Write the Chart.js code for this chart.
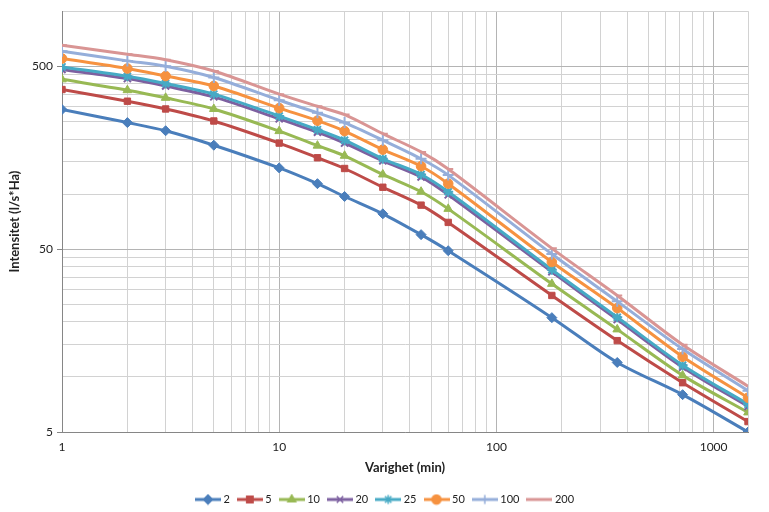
<!DOCTYPE html>
<html><head><meta charset="utf-8">
<script src="https://cdn.jsdelivr.net/npm/chart.js@4/dist/chart.umd.min.js"></script>
<style>html,body{margin:0;padding:0;background:#fff}#wrap{width:769px;height:512px;position:relative}</style>
</head><body><div id="wrap"><canvas id="c"></canvas></div>
<script>
const durations = [1,2,3,5,10,15,20,30,45,60,180,360,720,1440];
const returnPeriods = ['2','5','10','20','25','50','100','200'];
const s2   = [290,246,222,185,139,114,97,78,60,49,21.1,12.0,8.0,5.0];
const s5   = [373,322,292,251,190,158,138,109,87,70,27.9,15.8,9.3,5.7];
const s10  = [424,370,336,292,221,184,162,128,103,83,32.3,18.2,10.2,6.4];
const s20  = [480,428,390,340,258,218,190,152,124,99,37.6,20.6,11.3,6.9];
const s25  = [496,441,402,352,267,225,197,156,128,103,38.6,21.2,11.6,7.1];
const s50  = [551,486,442,390,295,252,221,175,142,114,42.5,23.8,12.9,7.7];
const s100 = [604,535,500,434,326,278,246,197,156,127,47.0,25.9,14.2,8.4];
const s200 = [651,582,543,471,352,302,272,214,170,137,50.5,27.9,15.0,8.9];
const xMajorTicks = [1,10,100,1000];
const yMajorTicks = [5,50,500];
const xTickValues = [1,2,3,4,5,6,7,8,9,10,20,30,40,50,60,70,80,90,100,200,300,400,500,600,700,800,900,1000,1440];
const yTickValues = [5,10,15,20,25,30,35,40,45,50,100,150,200,250,300,350,400,450,500,1000];

const seriesValues = [s2,s5,s10,s20,s25,s50,s100,s200];
const colors = ['#4A7EBB','#BE4B48','#98B954','#7D60A0','#46AAC5','#F69240','#95AEDA','#D99594'];
const styles = ['rectRot','rect','triangle','crossRot','star','circle','cross','dash'];
const radii  = [5,4.5,5,5,5,4.8,5.5,5];

function legendImage(i){
  const cv = document.createElement('canvas');
  cv.width = 26; cv.height = 12;
  const g = cv.getContext('2d');
  g.strokeStyle = colors[i]; g.fillStyle = colors[i];
  g.lineWidth = 3;
  g.beginPath(); g.moveTo(0,6); g.lineTo(26,6); g.stroke();
  g.lineWidth = 1.5;
  Chart.helpers.drawPoint(g, {pointStyle: styles[i], radius: Math.min(radii[i],4.5), borderWidth: 1.5}, 13, 6);
  return cv;
}

const datasets = returnPeriods.map((rp, i) => ({
  label: rp,
  data: durations.map((d, k) => ({x: d, y: seriesValues[i][k]})),
  borderColor: colors[i],
  backgroundColor: colors[i],
  borderWidth: 3,
  pointStyle: styles[i],
  pointRadius: radii[i],
  pointBorderWidth: (styles[i]==='crossRot'||styles[i]==='cross'||styles[i]==='star'||styles[i]==='dash') ? 2 : 1,
  pointBackgroundColor: colors[i],
  pointBorderColor: colors[i],
  tension: 0.3,
  order: returnPeriods.length - i
}));

const FONT = 'Lato, "Open Sans", sans-serif';

const legendShift = {
  id: 'legendShift',
  afterLayout(chart) {
    const lg = chart.legend;
    if (!lg) return;
    const dx = 12, dy = 3;
    lg.left += dx; lg.right += dx; lg.top += dy; lg.bottom += dy;
    if (lg.legendHitBoxes) lg.legendHitBoxes.forEach(h => { h.left += dx; h.top += dy; });
  }
};

new Chart(document.getElementById('c'), {
  type: 'line',
  data: {datasets},
  plugins: [legendShift],
  options: {
    responsive: true,
    maintainAspectRatio: false,
    animation: false,
    layout: {padding: {top: 11, right: 21, bottom: 0, left: 0}},
    plugins: {
      tooltip: {enabled: false},
      legend: {
        position: 'bottom',
        labels: {
          usePointStyle: true,
          pointStyleWidth: 20,
          padding: 10,
          color: '#222',
          font: {family: FONT, size: 11},
          generateLabels: (chart) => chart.data.datasets.map((ds, i) => ({
            text: ds.label,
            pointStyle: legendImage(i),
            fillStyle: colors[i],
            strokeStyle: colors[i],
            lineWidth: 0,
            hidden: false,
            datasetIndex: i,
            fontColor: '#222'
          }))
        }
      }
    },
    scales: {
      x: {
        type: 'logarithmic',
        min: 1, max: 1440,
        afterBuildTicks: (s) => { s.ticks = xTickValues.map(v => ({value: v})); },
        afterFit: (s) => { s.height = 49; },
        ticks: {
          autoSkip: false, maxRotation: 0, padding: 8,
          color: '#222',
          font: {family: FONT, size: 12},
          callback: (v) => xMajorTicks.includes(v) ? String(v) : ''
        },
        grid: {
          drawTicks: false,
          color: (c) => (c.tick && xMajorTicks.includes(c.tick.value)) ? '#b4b4b4' : '#d2d2d2',
          lineWidth: 1
        },
        border: {color: '#868686', width: 1},
        title: {display: true, text: 'Varighet (min)', color: '#222',
                font: {family: FONT, size: 13, weight: 'bold'}, padding: {top: 4, bottom: 5}}
      },
      y: {
        type: 'logarithmic',
        min: 5, max: 1000,
        afterBuildTicks: (s) => { s.ticks = yTickValues.map(v => ({value: v})); },
        afterFit: (s) => { s.width = 62; },
        ticks: {
          autoSkip: false, padding: 4,
          color: '#222',
          font: {family: FONT, size: 12},
          callback: (v) => yMajorTicks.includes(v) ? String(v) : ''
        },
        grid: {
          tickLength: 5,
          color: (c) => (c.tick && yMajorTicks.includes(c.tick.value)) ? '#b4b4b4' : '#d2d2d2',
          tickColor: (c) => (c.tick && yMajorTicks.includes(c.tick.value)) ? '#868686' : 'rgba(0,0,0,0)',
          lineWidth: 1
        },
        border: {color: '#868686', width: 1},
        title: {display: true, text: 'Intensitet (l/s*Ha)', color: '#222',
                font: {family: FONT, size: 13, weight: 'bold'}, padding: {top: 7, bottom: 4}}
      }
    }
  }
});
</script>
</body></html>
